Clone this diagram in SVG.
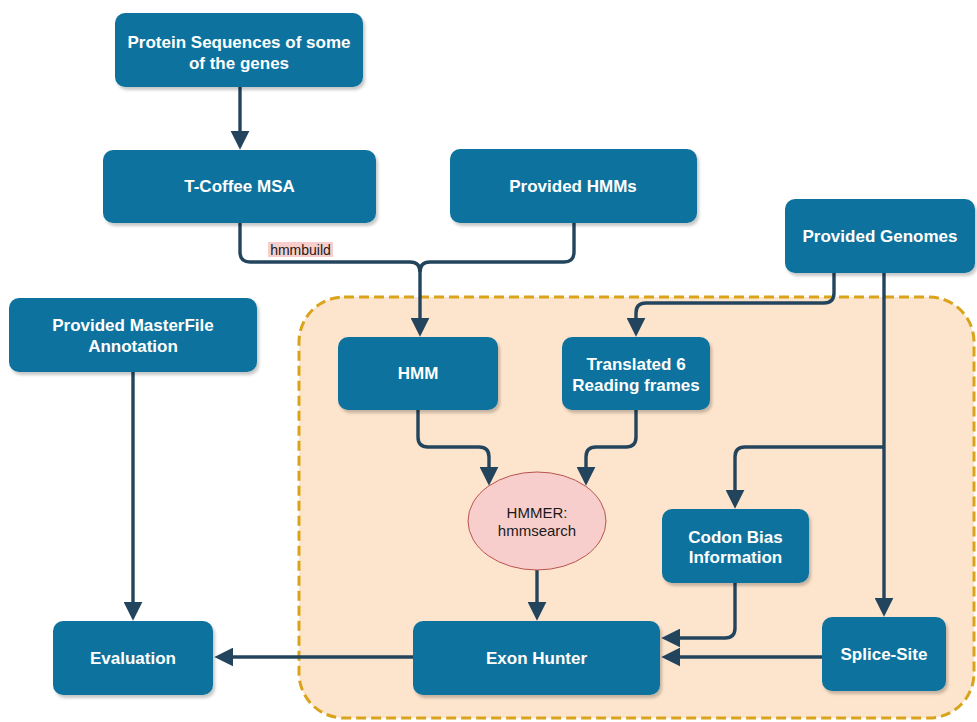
<svg xmlns="http://www.w3.org/2000/svg" width="977" height="722" viewBox="0 0 977 722">
  <style>
    .box { fill: #10739e; filter: url(#shadow); }
    .lbl { font-family: "Liberation Sans", Arial, sans-serif; font-weight: bold; font-size: 17px; fill: #ffffff; text-anchor: middle; }
    .ell { font-family: "Liberation Sans", Arial, sans-serif; font-size: 15px; fill: #1a1a1a; text-anchor: middle; }
    .edge { fill: none; stroke: #23445d; stroke-width: 3.4; }
    .arr { marker-end: url(#head); }
  </style>
  <defs>
    <filter id="shadow" x="-10%" y="-10%" width="125%" height="135%">
      <feDropShadow dx="2" dy="3" stdDeviation="1.5" flood-color="#000000" flood-opacity="0.22"/>
    </filter>
    <marker id="head" viewBox="0 0 10 10" refX="7" refY="5" markerWidth="19" markerHeight="19" markerUnits="userSpaceOnUse" orient="auto">
      <path d="M0,0 L10,5 L0,10 z" fill="#23445d"/>
    </marker>
  </defs>

  <!-- dashed frame around the search stage -->
  <rect x="299" y="297" width="675" height="421" rx="45" ry="45" fill="#fde4cc" stroke="#d9a31c" stroke-width="3" stroke-dasharray="10 5"/>

  <g id="edges">
    <path class="edge arr" d="M240,87 V144"/>
    <path class="edge arr" d="M240,223 V252 Q240,262 250,262 H410 Q420,262 420,272 V331"/>
    <path class="edge" d="M574,223 V252 Q574,262 564,262 H430 Q420,262 420,272"/>
    <path class="edge arr" d="M834,273 V293 Q834,303 824,303 H646 Q636,303 636,313 V331"/>
    <path class="edge arr" d="M884,273 V611"/>
    <path class="edge arr" d="M884,447 H745 Q735,447 735,457 V503"/>
    <path class="edge arr" d="M418,409 V437 Q418,447 428,447 H479 Q489,447 489,457 V480"/>
    <path class="edge arr" d="M636,409 V437 Q636,447 626,447 H596 Q586,447 586,457 V480"/>
    <path class="edge arr" d="M537,570 V615"/>
    <path class="edge arr" d="M735,583 V628 Q735,638 725,638 H667"/>
    <path class="edge arr" d="M822,657 H667"/>
    <path class="edge arr" d="M413,657 H220"/>
    <path class="edge arr" d="M133,372 V615"/>
    <g id="hmmbuild-label">
      <rect x="268" y="242" width="65" height="15" fill="#f8cecc"/>
      <text x="300.5" y="254.5" font-family="Liberation Sans, Arial, sans-serif" font-size="14" fill="#1a1a1a" text-anchor="middle">hmmbuild</text>
    </g>
  </g>

  <g id="protein">
    <rect class="box" x="115" y="13" width="248" height="74" rx="10"/>
    <text class="lbl" x="239" y="48">Protein Sequences of some</text>
    <text class="lbl" x="239" y="69">of the genes</text>
  </g>
  <g id="tcoffee">
    <rect class="box" x="103" y="150" width="273" height="73" rx="10"/>
    <text class="lbl" x="239.5" y="192">T-Coffee MSA</text>
  </g>
  <g id="provided-hmms">
    <rect class="box" x="450" y="149" width="247" height="74" rx="10"/>
    <text class="lbl" x="573" y="192">Provided HMMs</text>
  </g>
  <g id="provided-genomes">
    <rect class="box" x="785" y="199" width="190" height="74" rx="10"/>
    <text class="lbl" x="880" y="242">Provided Genomes</text>
  </g>
  <g id="masterfile">
    <rect class="box" x="9" y="298" width="248" height="74" rx="10"/>
    <text class="lbl" x="133" y="331">Provided MasterFile</text>
    <text class="lbl" x="133" y="352">Annotation</text>
  </g>
  <g id="hmm">
    <rect class="box" x="338" y="337" width="160" height="73" rx="10"/>
    <text class="lbl" x="418" y="379">HMM</text>
  </g>
  <g id="translated">
    <rect class="box" x="562" y="337" width="148" height="73" rx="10"/>
    <text class="lbl" x="636" y="370">Translated 6</text>
    <text class="lbl" x="636" y="391">Reading frames</text>
  </g>
  <g id="hmmer">
    <ellipse cx="537" cy="521" rx="69" ry="49" fill="#f8cecc" stroke="#b85450" stroke-width="1"/>
    <text class="ell" x="537" y="518">HMMER:</text>
    <text class="ell" x="537" y="536">hmmsearch</text>
  </g>
  <g id="codon-bias">
    <rect class="box" x="662" y="509" width="147" height="74" rx="10"/>
    <text class="lbl" x="735.5" y="543">Codon Bias</text>
    <text class="lbl" x="735.5" y="563">Information</text>
  </g>
  <g id="splice-site">
    <rect class="box" x="822" y="617" width="124" height="74" rx="10"/>
    <text class="lbl" x="884" y="660">Splice-Site</text>
  </g>
  <g id="exon-hunter">
    <rect class="box" x="413" y="621" width="247" height="74" rx="10"/>
    <text class="lbl" x="536.5" y="664">Exon Hunter</text>
  </g>
  <g id="evaluation">
    <rect class="box" x="53" y="621" width="160" height="74" rx="10"/>
    <text class="lbl" x="133" y="664">Evaluation</text>
  </g>
</svg>
